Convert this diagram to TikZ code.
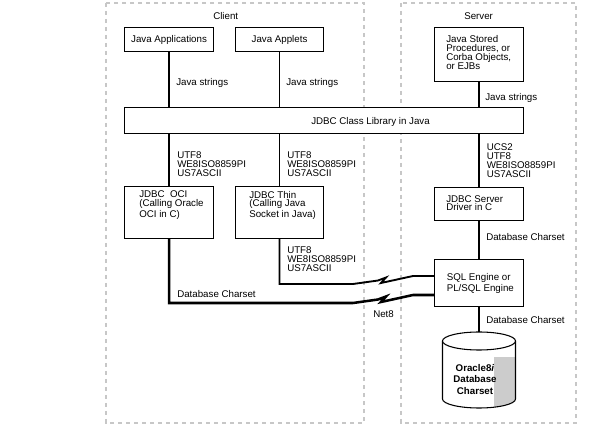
\documentclass[tikz,border=0pt]{standalone}
\usepackage{fontspec}
\setmainfont{Liberation Sans}
\begin{document}
\begin{tikzpicture}[x=0.75pt,y=-0.75pt,
  font=\fontsize{7.3pt}{6.7pt}\selectfont,
  frame/.style={draw=black!22, line width=1.1pt, dash pattern=on 3.2pt off 2.8pt},
  box/.style={draw, line width=0.8pt, fill=white, anchor=north west, inner sep=0pt},
  txt/.style={inner sep=0pt, align=left, anchor=north west},
  lbl/.style={inner sep=0pt, anchor=base west},
  wireA/.style={line width=1.9pt},
  wireB/.style={line width=1.4pt},
  wireC/.style={line width=1.2pt}]
\useasboundingbox (0,0) rectangle (596,434);
% frames
\draw[frame] (106,3) rectangle (364,423);
\draw[frame] (401,3) rectangle (576,423);
\node[lbl] (client) at (213,19.7) {Client};
\node[lbl] (server) at (464,19.7) {Server};
% boxes
\node[box, minimum width=66.75pt, minimum height=18pt] (japp) at (124,27) {Java Applications};
\node[box, minimum width=66pt, minimum height=18pt] (japplets) at (235,27) {Java Applets};
\node[box, minimum width=66.75pt, minimum height=40.5pt] (stored) at (434,27) {};
\node[txt] (storedt) at (446,35) {Java Stored\\Procedures, or\\Corba Objects,\\or EJBs};
\node[box, minimum width=299.25pt, minimum height=19.5pt] (lib) at (124,107) {};
\node[lbl] (libt) at (311,125) {JDBC Class Library in Java};
\node[box, minimum width=66.75pt, minimum height=39pt] (oci) at (124,186) {};
\node[txt] (ocit) at (139,190.7) {JDBC\ \ OCI\\(Calling Oracle\\OCI in C)};
\node[box, minimum width=66pt, minimum height=39pt] (thin) at (235,186) {};
\node[txt] (thint) at (249,190.7) {JDBC Thin\\(Calling Java\\Socket in Java)};
\node[box, minimum width=66.75pt, minimum height=24.75pt] (drv) at (434,187) {};
\node[txt] (drvt) at (446,195) {JDBC Server\\Driver in C};
\node[box, minimum width=66.75pt, minimum height=35.25pt] (sql) at (434,259) {};
\node[txt] (sqlt) at (446.5,273.3) {SQL Engine or\\PL/SQL Engine};
% cylinder
\coordinate (dbtop) at (479,341);
\coordinate (dbcap) at (479,332);
\begin{scope}
\clip (442.5,341) -- (442.5,399) arc[start angle=180, end angle=360, x radius=27.375pt, y radius=6.75pt] -- (515.5,341) -- cycle;
\fill[white] (440,330) rectangle (518,410);
\fill[black!20] (494,357) rectangle (518,410);
\end{scope}
\draw[line width=0.8pt] (442.5,341) -- (442.5,399) arc[start angle=180, end angle=360, x radius=27.375pt, y radius=6.75pt] -- (515.5,341);
\draw[line width=0.8pt, fill=white] (dbtop) ellipse [x radius=27.375pt, y radius=6.75pt];
\node[inner sep=0pt, align=center, anchor=north, font=\fontsize{7.3pt}{8.4pt}\selectfont\bfseries] (dbt) at (475,364.3) {Oracle8\textit{i}\\Database\\Charset};
% wires client
\draw[wireA] (japp.south) -- (japp.south |- lib.north);
\draw[wireC] (japplets.south) -- (japplets.south |- lib.north);
\draw[wireA] (oci.north |- lib.south) -- (oci.north);
\draw[wireC] (thin.north |- lib.south) -- (thin.north);
% wires server
\draw[wireC] (stored.south) -- (stored.south |- lib.north);
\draw[wireC] (drv.north |- lib.south) -- (drv.north);
\draw[wireC] (drv.south) -- (sql.north);
\draw[wireC] (sql.south) -- (sql.south |- dbcap);
% net8 links
\coordinate (ua) at (353,284);
\coordinate (ub) at (378,280.5);
\coordinate (uc) at (386,277.5);
\coordinate (ud) at (381,283);
\coordinate (ue) at (413,276);
\coordinate (la) at (353,303);
\coordinate (lb) at (378,299.5);
\coordinate (lc) at (386,296.5);
\coordinate (ld) at (381,302);
\coordinate (le) at (413,295);
\draw[wireB, line join=miter] (thin.south) |- (ua) -- (ub) -- (uc) -- (ud) -- (ue) -- (ue -| sql.west);
\draw[wireA, line join=miter] (oci.south) |- (la) -- (lb) -- (lc) -- (ld) -- (le) -- (le -| sql.west);
% labels
\node[lbl] (js1) at (176,85.5) {Java strings};
\node[lbl] (js2) at (286,85.5) {Java strings};
\node[lbl] (js3) at (485,100.3) {Java strings};
\node[txt] (cs1) at (177,151.7) {UTF8\\WE8ISO8859PI\\US7ASCII};
\node[txt] (cs2) at (287,151.7) {UTF8\\WE8ISO8859PI\\US7ASCII};
\node[txt] (cs3) at (287,246.7) {UTF8\\WE8ISO8859PI\\US7ASCII};
\node[txt] (cs4) at (486.5,143.3) {UCS2\\UTF8\\WE8ISO8859PI\\US7ASCII};
\node[lbl] (dc1) at (177,297.7) {Database Charset};
\node[lbl] (dc2) at (486,240.3) {Database Charset};
\node[lbl] (dc3) at (486,323.7) {Database Charset};
\node[lbl] (net) at (373,317.5) {Net8};
\end{tikzpicture}
\end{document}
